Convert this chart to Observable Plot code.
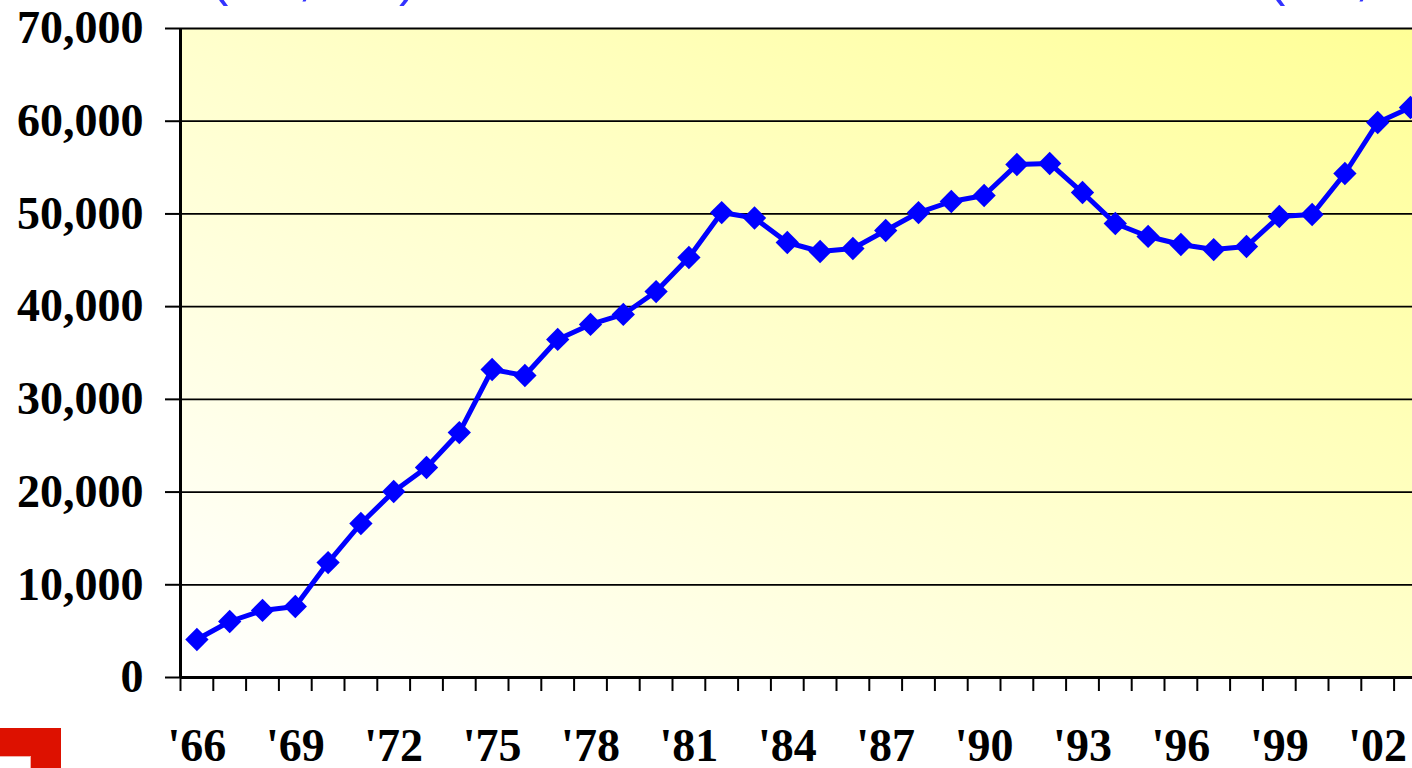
<!DOCTYPE html>
<html>
<head>
<meta charset="utf-8">
<script src="https://cdn.jsdelivr.net/npm/d3@7"></script>
<script src="https://cdn.jsdelivr.net/npm/@observablehq/plot@0.6"></script>
<style>
html, body { margin: 0; padding: 0; background: #fff; overflow: hidden; width: 1412px; height: 768px; }
#wrap { position: relative; width: 1412px; height: 768px; overflow: hidden; }
#chart { position: absolute; left: 0; top: 0; }
.title { position: absolute; font-family: "Liberation Sans", Arial, sans-serif; font-size: 52px; color: #3333ff; white-space: nowrap; line-height: 1; }
.logo { position: absolute; left: 0; top: 728px; width: 61px; height: 40px; background: #dd1100; }
.logo-in { position: absolute; left: 0; top: 756px; width: 30px; height: 12px; background: #fff; border-top: 1px solid #f0b0a8; border-right: 1px solid #f0b0a8; }
</style>
</head>
<body>
<div id="wrap">
  <div id="chart"></div>
  <div class="title" style="left:211px; top:-49px;">(x 1,000)</div>
  <div class="title" style="left:1268px; top:-49px;">(x 1,000)</div>
  <div class="logo"></div>
  <div class="logo-in"></div>
</div>
<script>
// Years (categories)
const years = [1966, 1967, 1968, 1969, 1970, 1971, 1972, 1973, 1974, 1975,
               1976, 1977, 1978, 1979, 1980, 1981, 1982, 1983, 1984, 1985,
               1986, 1987, 1988, 1989, 1990, 1991, 1992, 1993, 1994, 1995,
               1996, 1997, 1998, 1999, 2000, 2001, 2002, 2003];
// Series values
const values = [4100, 6040, 7230, 7660, 12400, 16610, 20060, 22650, 26420, 33220,
                32570, 36460, 38080, 39160, 41630, 45300, 50150, 49560, 46920, 45950,
                46270, 48210, 50150, 51340, 51990, 55330, 55440, 52310, 48970, 47570,
                46700, 46160, 46490, 49720, 49940, 54360, 59860, 61480];
// Tick labels
const yTicks = [0, 10000, 20000, 30000, 40000, 50000, 60000, 70000];
const xLabelYears = [1966, 1969, 1972, 1975, 1978, 1981, 1984, 1987, 1990, 1993, 1996, 1999, 2002];
const xBounds = [1965.5, 1966.5, 1967.5, 1968.5, 1969.5, 1970.5, 1971.5, 1972.5, 1973.5, 1974.5,
                 1975.5, 1976.5, 1977.5, 1978.5, 1979.5, 1980.5, 1981.5, 1982.5, 1983.5, 1984.5,
                 1985.5, 1986.5, 1987.5, 1988.5, 1989.5, 1990.5, 1991.5, 1992.5, 1993.5, 1994.5,
                 1995.5, 1996.5, 1997.5, 1998.5, 1999.5, 2000.5, 2001.5, 2002.5, 2003.5];

const data = years.map((year, i) => ({year, value: values[i]}));

const plot = Plot.plot({
  width: 1412,
  height: 768,
  marginLeft: 180,
  marginRight: 0,
  marginTop: 28,
  marginBottom: 91,
  style: {
    fontFamily: '"Liberation Serif", "Times New Roman", serif',
    fontWeight: "bold",
    fontSize: "46px",
    color: "#000",
    background: "transparent"
  },
  x: {type: "linear", domain: [1965.5, 2004.5], range: [180, 1459.2], label: null},
  y: {domain: [0, 70000], range: [677, 28], label: null},
  marks: [
    Plot.frame({fill: "url(#bgGrad)", stroke: null}),
    Plot.ruleY(yTicks, {stroke: "#000", strokeWidth: 1.8}),
    Plot.axisY(yTicks, {tickSize: 15, tickPadding: 22, tickFormat: d3.format(","), stroke: "#000", strokeWidth: 2, fill: "#000", label: null}),
    Plot.axisX(xBounds, {tickSize: 14, tickFormat: () => "", stroke: "#000", strokeWidth: 2, label: null}),
    Plot.axisX(xLabelYears, {tickSize: 0, tickPadding: 51, tickFormat: d => "'" + String(d).slice(2), fill: "#000", label: null}),
    Plot.ruleX([1965.5], {stroke: "#000", strokeWidth: 3}),
    Plot.ruleY([0], {stroke: "#000", strokeWidth: 3}),
    Plot.line(data, {x: "year", y: "value", stroke: "#0000ff", strokeWidth: 5}),
    Plot.dot(data, {x: "year", y: "value", symbol: "diamond2", r: 10.5, fill: "#0000ff", stroke: "none"})
  ]
});

const svgEl = plot.tagName.toLowerCase() === "svg" ? plot : plot.querySelector("svg");
const svg = d3.select(svgEl);
const defs = svg.insert("defs", ":first-child");
const grad = defs.append("linearGradient")
  .attr("id", "bgGrad")
  .attr("gradientUnits", "userSpaceOnUse")
  .attr("x1", 180).attr("y1", 677)
  .attr("x2", 712).attr("y2", -344);
grad.append("stop").attr("offset", "0").attr("stop-color", "#ffffff");
grad.append("stop").attr("offset", "0.5").attr("stop-color", "#ffffcc");
grad.append("stop").attr("offset", "1").attr("stop-color", "#ffff96");

document.getElementById("chart").appendChild(plot);
</script>
</body>
</html>
